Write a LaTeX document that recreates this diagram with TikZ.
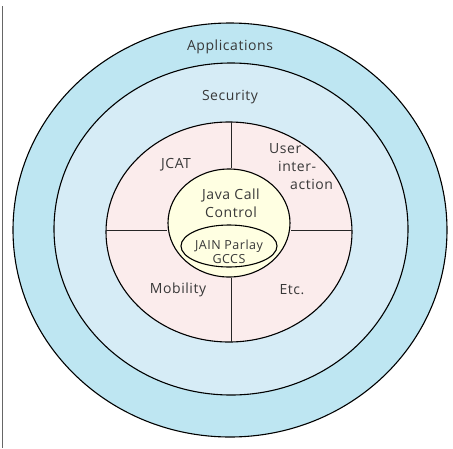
\documentclass[tikz,border=0pt]{standalone}
\usepackage{fontspec}
\setmainfont{Open Sans}[LetterSpace=4]
\usetikzlibrary{shapes.geometric}
\begin{document}
\begin{tikzpicture}[x=1pt,y=-1pt,
  ring/.style={draw=black,line width=1.1pt,shape=ellipse,inner sep=0pt},
  lbl/.style={font=\fontsize{14}{18}\selectfont,text=black!78,align=center,inner sep=0pt},
  divider/.style={draw=black!85,line width=1pt}]
\useasboundingbox (0,0) rectangle (453,448);
\draw[black!60,line width=1pt] (2.5,6) -- (2.5,448);
\node[ring,fill={rgb,255:red,190;green,230;blue,242},minimum width=434pt,minimum height=414pt] (apps) at (230,230) {};
\node[ring,fill={rgb,255:red,214;green,236;blue,246},minimum width=354pt,minimum height=332pt] (sec) at (231,229) {};
\node[ring,fill={rgb,255:red,251;green,236;blue,236},minimum width=246pt,minimum height=220pt] (mid) at (229,232) {};
\node[ring,fill={rgb,255:red,255;green,255;blue,226},minimum width=122pt,minimum height=108pt] (jcc) at (229,223) {};
\node[ring,fill={rgb,255:red,255;green,255;blue,226},minimum width=96pt,minimum height=42pt] (jain) at (229,246) {};
\coordinate (vt) at (231,122);
\coordinate (vb) at (231,342);
\coordinate (hl) at (106,230);
\coordinate (hr) at (352,230);
\draw[divider] (vt) -- (vt |- jcc.north);
\draw[divider] (vb) -- (vb |- jcc.south);
\draw[divider] (hl) -- (hl -| jcc.west);
\draw[divider] (hr) -- (hr -| jcc.east);
\node[lbl] (tapps) at (230,47) {Applications};
\node[lbl] (tsec) at (230,97) {Security};
\node[lbl] (tjcat) at (176,165) {JCAT};
\node[lbl,align=left,anchor=north west] (tuser) at (269,143) {User\\\hspace{9pt}inter-\\\hspace{21pt}action};
\node[lbl] (tjava) at (231,203) {Java Call\\Control};
\node[lbl,font=\fontsize{12.5}{13.5}\selectfont] (tjain) at (229,252) {JAIN Parlay\\GCCS};
\node[lbl] (tmob) at (178,290) {Mobility};
\node[lbl] (tetc) at (292,290) {Etc.};
\end{tikzpicture}
\end{document}
